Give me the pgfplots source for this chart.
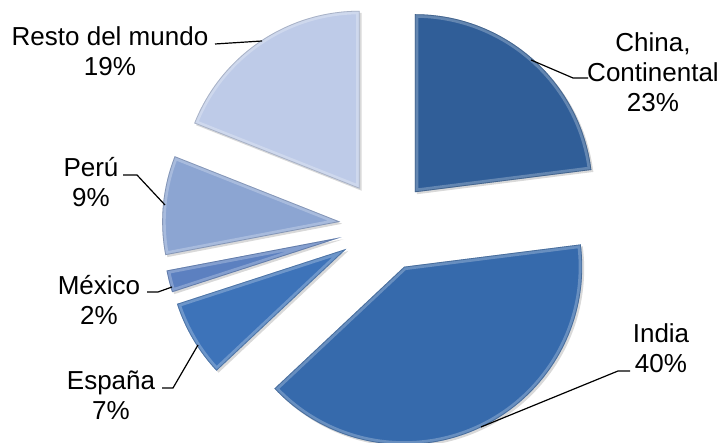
\documentclass[border=0pt]{standalone}
\usepackage{pgfplots}
\pgfplotsset{compat=1.18}
\usepackage{pgfplotstable}
\usepackage{fontspec}
\setmainfont{Liberation Sans}
\usetikzlibrary{shadows}
\definecolor{slice0}{RGB}{48,94,152}
\definecolor{slice1}{RGB}{54,106,172}
\definecolor{slice2}{RGB}{61,115,185}
\definecolor{slice3}{RGB}{92,128,192}
\definecolor{slice4}{RGB}{140,165,210}
\definecolor{slice5}{RGB}{190,203,232}
\pgfplotstableread{
name value
China 23
India 40
Espana 7
Mexico 2
Peru 9
Resto 19
}\piedata
\begin{document}
\begin{tikzpicture}
\begin{axis}[width=725pt,height=443pt,scale only axis,
  xmin=0,xmax=725,ymin=0,ymax=443,hide axis,clip=true]
\pgfplotsextra{
  \pgfplotstablegetrowsof{\piedata}
  \pgfmathtruncatemacro{\nrows}{\pgfplotsretval-1}
  \gdef\angstart{90}
  \foreach \i in {0,...,\nrows} {
    \pgfplotstablegetelem{\i}{value}\of{\piedata}
    \pgfmathsetmacro{\sweep}{\pgfplotsretval*3.6}
    \pgfmathsetmacro{\aend}{\angstart-\sweep}
    \pgfmathsetmacro{\amid}{\angstart-\sweep/2}
    \pgfmathsetmacro{\ox}{385+45*cos(\amid)}
    \pgfmathsetmacro{\oy}{217+45*sin(\amid)}
    \def\wedge{(axis cs:\ox,\oy) -- ++(\angstart:178pt) arc[start angle=\angstart, end angle=\aend, radius=178pt] -- cycle}
    \fill[slice\i, drop shadow={shadow xshift=2pt, shadow yshift=-2pt, opacity=0.3}] \wedge;
    \begin{scope}
      \clip \wedge;
      \draw[white, opacity=0.25, line width=7pt] \wedge;
      \draw[slice\i!65!black, opacity=0.45, line width=1.6pt] \wedge;
    \end{scope}
    \xdef\angstart{\aend}
  }
}
% leader lines
\tikzset{lead/.style={black, line width=1.2pt}}
\draw[lead] (axis cs:215,399) -- (axis cs:262,402);
\draw[lead] (axis cs:531,383) -- (axis cs:573,365) -- (axis cs:588,365);
\draw[lead] (axis cs:123,268) -- (axis cs:137,268) -- (axis cs:165,238);
\draw[lead] (axis cs:147,151) -- (axis cs:158,151) -- (axis cs:172,156);
\draw[lead] (axis cs:162,55) -- (axis cs:173,55) -- (axis cs:198,98);
\draw[lead] (axis cs:630,72) -- (axis cs:618,72) -- (axis cs:481,16);
% labels
\tikzset{lab/.style={align=center, inner sep=0pt, font=\fontsize{26}{30}\selectfont}}
\node[lab] at (axis cs:110,391.5) {Resto del mundo\\19\%};
\node[lab] at (axis cs:653,371) {China,\\Continental\\23\%};
\node[lab] at (axis cs:91,260.5) {Perú\\9\%};
\node[lab] at (axis cs:99,143) {México\\2\%};
\node[lab] at (axis cs:111,47.5) {España\\7\%};
\node[lab] at (axis cs:661,94.5) {India\\40\%};
\end{axis}
\path (current axis.south west) rectangle (current axis.north east);
\end{tikzpicture}
\end{document}
